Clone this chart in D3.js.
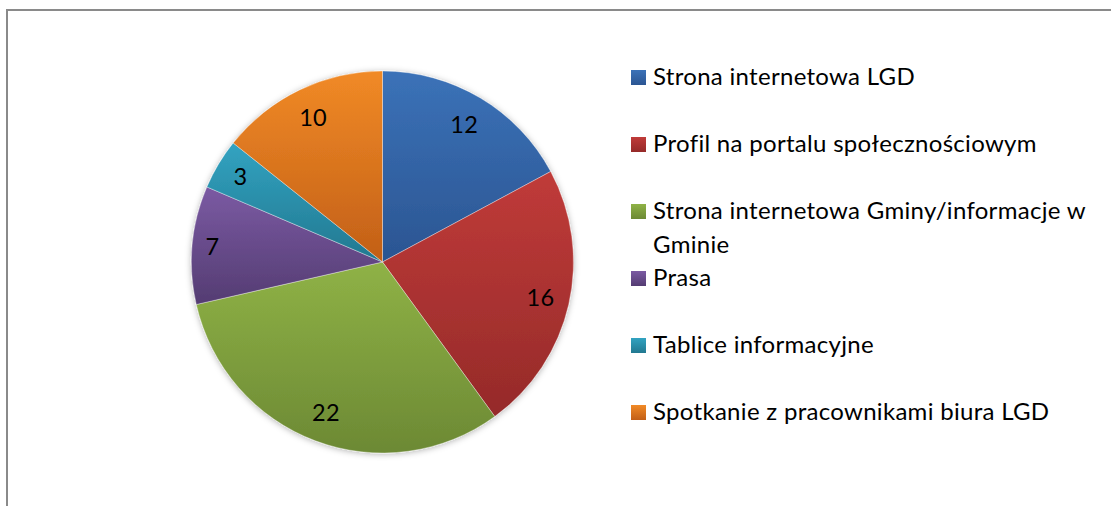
<!DOCTYPE html>
<html>
<head>
<meta charset="utf-8">
<script src="https://cdn.jsdelivr.net/npm/d3@7"></script>
<style>
	html, body { margin: 0; padding: 0; background: #fff; }
	svg { display: block; }
	text { font-family: Lato, "Open Sans", sans-serif; fill: #000; }
</style>
</head>
<body>
<div id="chart"></div>
<script>
// answers, clockwise from 12 o'clock
const categories = [
	"Strona internetowa LGD",
	"Profil na portalu społecznościowym",
	"Strona internetowa Gminy/informacje w Gminie",
	"Prasa",
	"Tablice informacyjne",
	"Spotkanie z pracownikami biura LGD",
];
const values = [12, 16, 22, 7, 3, 10];
// gradient stops per slice: top, bottom
const topColors = ["#3b72b8", "#c03b39", "#8fb246", "#7b5aa3", "#32a3c1", "#f18a26"];
const bottomColors = ["#2b5592", "#952a29", "#6c8934", "#543c72", "#227890", "#c25f17"];

const width = 1111;
const height = 506;
const cx = 382.5;
const cy = 262;
const radius = 191;

const svg = d3.select("#chart").append("svg").attr("width", width).attr("height", height);
const defs = svg.append("defs");

// frame (continues past the right and bottom edge)
svg.append("rect")
	.attr("x", 7)
	.attr("y", 10)
	.attr("width", 1200)
	.attr("height", 600)
	.attr("fill", "none")
	.attr("stroke", "#8a8a8a")
	.attr("stroke-width", 2);

const shadow = defs.append("filter").attr("id", "shadow").attr("x", "-10%").attr("y", "-10%").attr("width", "120%").attr("height", "120%");
shadow.append("feDropShadow").attr("dx", 0).attr("dy", 1).attr("stdDeviation", 3).attr("flood-color", "#000").attr("flood-opacity", 0.3);

categories.forEach((c, i) => {
	const g = defs.append("linearGradient").attr("id", "grad" + i).attr("x1", 0).attr("y1", 0).attr("x2", 0).attr("y2", 1);
	g.append("stop").attr("offset", "0%").attr("stop-color", topColors[i]);
	g.append("stop").attr("offset", "100%").attr("stop-color", bottomColors[i]);
});

const pie = d3.pie().sort(null).value((d) => d.value);
const arc = d3.arc().innerRadius(0).outerRadius(radius);
const data = pie(categories.map((c, i) => ({ name: c, value: values[i], i })));

const pieG = svg.append("g").attr("transform", `translate(${cx},${cy})`);

pieG.append("g")
	.attr("filter", "url(#shadow)")
	.selectAll("path")
	.data(data)
	.join("path")
	.attr("d", arc)
	.attr("fill", (d) => `url(#grad${d.data.i})`)
	.attr("stroke", "rgba(255,255,255,0.45)")
	.attr("stroke-width", 0.8);

// data labels, placed "inside end" like Excel
const labels = pieG.selectAll("text.lbl")
	.data(data)
	.join("text")
	.attr("class", "lbl")
	.attr("text-anchor", "middle")
	.attr("dy", "0.35em")
	.style("font-size", "23.5px")
	.style("letter-spacing", "0.3px")
	.text((d) => d.data.value);

labels.each(function (d) {
	const w = this.getComputedTextLength();
	const a = (d.startAngle + d.endAngle) / 2;
	const s = Math.sin(a);
	const c = Math.cos(a);
	const dist = radius - 11 - (w / 2 + 1) * Math.abs(s) - 15 * Math.abs(c);
	d3.select(this).attr("x", dist * s).attr("y", -dist * c);
});

// legend
const legendX = 631;
const textX = 653;
const maxTextW = 450;
const lineH = 34;
const ly = d3.scalePoint().domain(categories).range([85, 420]);

const legend = svg.append("g");
const items = legend.selectAll("g.item")
	.data(categories)
	.join("g")
	.attr("class", "item");

items.append("rect")
	.attr("x", legendX)
	.attr("y", (d) => ly(d) - 15)
	.attr("width", 15)
	.attr("height", 15)
	.attr("fill", (d, i) => `url(#grad${i})`);

items.each(function (d) {
	const g = d3.select(this);
	const t = g.append("text")
		.attr("x", textX)
		.attr("y", ly(d))
		.style("font-size", "24px")
		.style("letter-spacing", "0.3px");
	const words = d.split(" ");
	let line = [];
	let tspan = t.append("tspan").attr("x", textX).attr("y", ly(d));
	let lineNo = 0;
	words.forEach((word) => {
		line.push(word);
		tspan.text(line.join(" "));
		if (tspan.node().getComputedTextLength() > maxTextW && line.length > 1) {
			line.pop();
			tspan.text(line.join(" "));
			line = [word];
			lineNo++;
			tspan = t.append("tspan").attr("x", textX).attr("y", ly(d) + lineNo * lineH).text(word);
		}
	});
});
</script>
</body>
</html>
